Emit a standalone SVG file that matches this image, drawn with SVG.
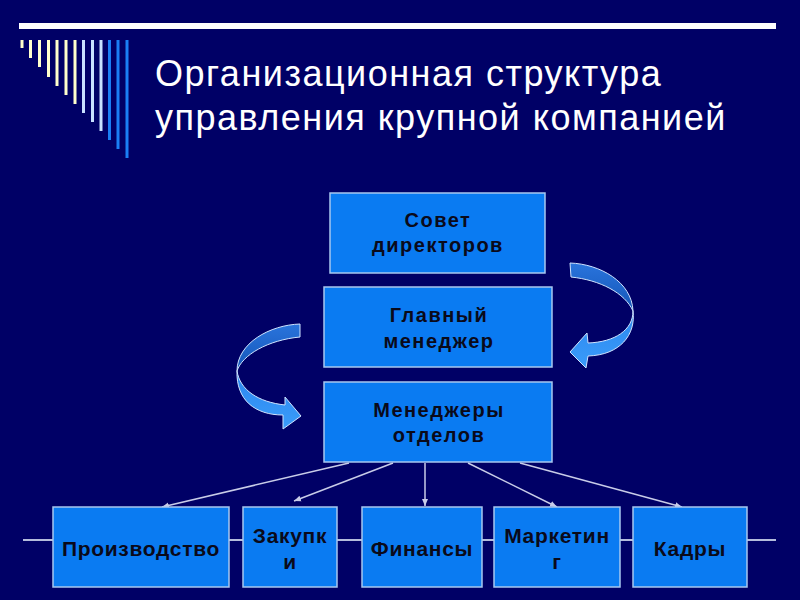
<svg xmlns="http://www.w3.org/2000/svg" width="800" height="600" viewBox="0 0 800 600">
<defs>
<style>
.box{fill:#0a7bf2;stroke:#a8c8f0;stroke-width:1.5}
.t{font-family:"Liberation Sans",Arial,sans-serif;font-weight:bold;font-size:20px;fill:#0a0a1a;text-anchor:middle;letter-spacing:1.5px}
.tb{font-family:"Liberation Sans",Arial,sans-serif;font-weight:bold;font-size:21px;fill:#0a0a1a;text-anchor:middle;letter-spacing:0.7px}
.title{font-family:"Liberation Sans",Arial,sans-serif;font-size:36px;fill:#ffffff;letter-spacing:1.5px}
.con{stroke:#c8cce8;stroke-width:1.5;fill:none;marker-end:url(#ah)}
.cream{stroke:#ffffcc;stroke-width:3}
.lb{stroke:#c8e0ff;stroke-width:3}
.bb{stroke:#1a7ff5;stroke-width:3}
.rib{stroke:#d0e4ff;stroke-width:1}
</style>
<marker id="ah" markerWidth="8" markerHeight="8" refX="7" refY="4" orient="auto" markerUnits="userSpaceOnUse">
<path d="M0,1 L7,4 L0,7 Z" fill="#c8cce8"/>
</marker>
<linearGradient id="gd" x1="0" y1="0" x2="0" y2="1">
<stop offset="0" stop-color="#2a74dc"/>
<stop offset="1" stop-color="#1456b8"/>
</linearGradient>
<linearGradient id="gl" x1="0" y1="0" x2="0" y2="1">
<stop offset="0" stop-color="#2c86ee"/>
<stop offset="1" stop-color="#3a9cfa"/>
</linearGradient>
</defs>
<rect width="800" height="600" fill="#000066"/>
<g id="decor">
<rect x="19" y="23" width="757" height="6" fill="#ffffff"/>
<line class="cream" x1="22" y1="40" x2="22" y2="48"/>
<line class="cream" x1="30.5" y1="40" x2="30.5" y2="58"/>
<line class="cream" x1="39.5" y1="40" x2="39.5" y2="67"/>
<line class="cream" x1="48.5" y1="40" x2="48.5" y2="77"/>
<line class="cream" x1="57" y1="40" x2="57" y2="86"/>
<line class="cream" x1="66" y1="40" x2="66" y2="95"/>
<line class="cream" x1="75" y1="40" x2="75" y2="104"/>
<line class="lb" x1="83.5" y1="40" x2="83.5" y2="113"/>
<line class="lb" x1="92.5" y1="40" x2="92.5" y2="122"/>
<line class="lb" x1="101" y1="40" x2="101" y2="131"/>
<line class="bb" x1="109.5" y1="40" x2="109.5" y2="140"/>
<line class="bb" x1="118" y1="40" x2="118" y2="149"/>
<line class="bb" x1="127" y1="40" x2="127" y2="158"/>
</g>
<g id="title">
<text class="title" x="155" y="86">Организационная структура</text>
<text class="title" x="155" y="130">управления крупной компанией</text>
</g>
<g id="connectors">
<line x1="23" y1="540" x2="776" y2="540" stroke="#b4bcdc" stroke-width="2"/>
<line class="con" x1="349" y1="463" x2="162" y2="507"/>
<line class="con" x1="393" y1="463" x2="294" y2="501"/>
<line class="con" x1="425" y1="463" x2="425" y2="506"/>
<line class="con" x1="468" y1="463" x2="557" y2="507"/>
<line class="con" x1="520" y1="463" x2="682" y2="507"/>
</g>
<g id="arrow-left">
<path class="rib" fill="url(#gd)" d="M300,324 C270,325 237,343 237,371 C242,355 268,340 300,337 Z"/>
<path class="rib" fill="url(#gl)" d="M237,371 C240,390 258,402 285,405 L285,397 L301,416 L283,429 L283,415 C255,415 236,400 237,371 Z"/>
</g>
<g id="arrow-right">
<path class="rib" fill="url(#gd)" d="M570,263 C600,264 632,282 633,311 C625,293 600,280 571,277 Z"/>
<path class="rib" fill="url(#gl)" d="M633,311 C633,330 615,342 588,343 L587,333 L570,352 L586,368 L588,356 C620,355 636,335 633,311 Z"/>
</g>
<g id="n-sovet">
<rect class="box" x="330" y="193" width="215" height="80"/>
<text class="t" x="438" y="227">Совет</text>
<text class="t" x="438" y="252">директоров</text>
</g>
<g id="n-glavny">
<rect class="box" x="324" y="287" width="228" height="80"/>
<text class="t" x="439" y="322">Главный</text>
<text class="t" x="439" y="348">менеджер</text>
</g>
<g id="n-otdely">
<rect class="box" x="324" y="382" width="228" height="80"/>
<text class="t" x="439" y="417">Менеджеры</text>
<text class="t" x="439" y="442">отделов</text>
</g>
<g id="n-proizv">
<rect class="box" x="53" y="507" width="176" height="80"/>
<text class="tb" x="141" y="556">Производство</text>
</g>
<g id="n-zakupki">
<rect class="box" x="243" y="507" width="94" height="80"/>
<text class="tb" x="290" y="543">Закупк</text>
<text class="tb" x="290" y="569">и</text>
</g>
<g id="n-finansy">
<rect class="box" x="362" y="507" width="120" height="80"/>
<text class="tb" x="422" y="556">Финансы</text>
</g>
<g id="n-marketing">
<rect class="box" x="494" y="507" width="126" height="80"/>
<text class="tb" x="557" y="543">Маркетин</text>
<text class="tb" x="557" y="569">г</text>
</g>
<g id="n-kadry">
<rect class="box" x="633" y="507" width="114" height="80"/>
<text class="tb" x="690" y="556">Кадры</text>
</g>
</svg>
